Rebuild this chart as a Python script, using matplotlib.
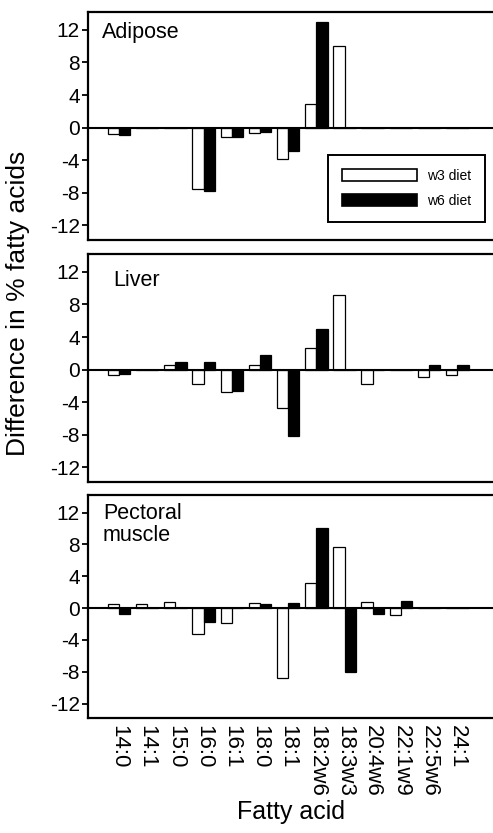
import numpy as np
import matplotlib
matplotlib.use("Agg")
import matplotlib.pyplot as plt
from matplotlib.patches import Patch

plt.rcParams.update({
    "font.family": ["Liberation Sans", "DejaVu Sans"],
    "axes.unicode_minus": False,
    "axes.linewidth": 1.6,
})

# ── data ───────────────────────────────────────────────────────────────────
ACIDS = ["14:0", "14:1", "15:0", "16:0", "16:1", "18:0", "18:1",
         "18:2w6", "18:3w3", "20:4w6", "22:1w9", "22:5w6", "24:1"]

adipose_w3 = [-0.8, 0, 0, -7.5, -1.2, -0.6, -3.9, 2.9, 10.0, 0, 0, 0, 0]
adipose_w6 = [-0.9, 0, 0, -7.8, -1.2, -0.5, -2.9, 13.0, 0, 0, 0, 0, 0]

liver_w3 = [-0.7, 0, 0.6, -1.8, -2.75, 0.6, -4.75, 2.65, 9.15, -1.8, 0, -0.9, -0.7]
liver_w6 = [-0.5, 0, 0.95, 0.95, -2.65, 1.8, -8.1, 4.95, 0, 0, 0, 0.6, 0.6]

pect_w3 = [0.55, 0.55, 0.8, -3.3, -1.9, 0.65, -8.75, 3.15, 7.7, 0.75, -0.9, 0, 0]
pect_w6 = [-0.8, 0, 0, -1.75, 0, 0.5, 0.65, 10.0, -8.0, -0.7, 0.9, 0, 0]

PANELS = [
    ("Adipose", adipose_w3, adipose_w6),
    ("Liver", liver_w3, liver_w6),
    ("Pectoral\nmuscle", pect_w3, pect_w6),
]
YTICKS = [12, 8, 4, 0, -4, -8, -12]

# ── layout (pixel positions measured on the reference) ─────────────────────
W, H = 493, 833
fig = plt.figure(figsize=(W / 100, H / 100), dpi=100)
boxes = [(12, 240), (254, 482), (495, 718)]
label_pos = [(0.035, 0.955), (0.062, 0.93), (0.037, 0.965)]

x = np.arange(len(ACIDS))
bw = 0.4

axes = []
for (top, bot), (name, w3, w6), (lx, ly) in zip(boxes, PANELS, label_pos):
    ax = fig.add_axes([88 / W, 1 - bot / H, 406 / W, (bot - top) / H])
    axes.append(ax)
    ax.bar(x - bw / 2, w3, bw, color="white", edgecolor="black", linewidth=0.9, zorder=3)
    ax.bar(x + bw / 2, w6, bw, color="black", edgecolor="black", linewidth=0.9, zorder=3)
    ax.axhline(0, color="black", linewidth=1.5, zorder=4)
    ax.set_xlim(-1.1, 13.3)
    ax.set_ylim(-13.8, 14.2)
    ax.set_yticks(YTICKS)
    ax.set_yticklabels([str(t) for t in YTICKS])
    ax.tick_params(axis="y", direction="out", length=4, width=1.3, labelsize=15, pad=2)
    ax.tick_params(axis="x", length=0)
    ax.spines["right"].set_visible(False)
    ax.text(lx, ly, name, transform=ax.transAxes, ha="left", va="top",
            fontsize=15.5, linespacing=1.05)

for ax in axes[:-1]:
    ax.set_xticks([])

axes[-1].set_xticks(x)
axes[-1].set_xticklabels(ACIDS, rotation=-90, fontsize=16, va="top", ha="center")
axes[-1].tick_params(axis="x", pad=5)
axes[-1].set_xlabel("Fatty acid", fontsize=18, labelpad=2)

handles = [Patch(facecolor="white", edgecolor="black", linewidth=1.2, label="w3 diet"),
           Patch(facecolor="black", edgecolor="black", linewidth=1.2, label="w6 diet")]
leg = axes[0].legend(handles=handles, loc="lower right", bbox_to_anchor=(0.995, 0.05),
                     fontsize=10, handlelength=5.4, handleheight=0.95, handletextpad=0.7,
                     labelspacing=0.8, borderpad=1.0, fancybox=False, framealpha=1,
                     edgecolor="black")
leg.get_frame().set_linewidth(1.4)

fig.text(18 / W, 1 - 303 / H, "Difference in % fatty acids", rotation=90,
         ha="center", va="center", fontsize=19)

fig.savefig("out.png", dpi=100, facecolor="white")
